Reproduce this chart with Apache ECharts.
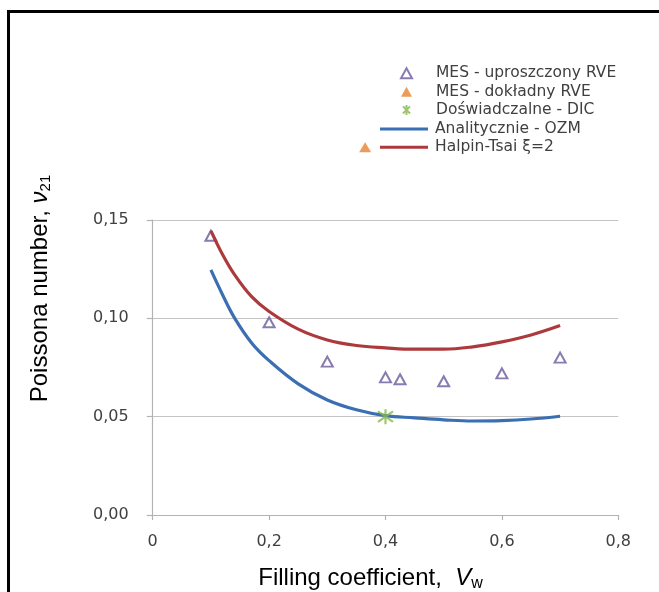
<!DOCTYPE html>
<html>
<head>
<meta charset="utf-8">
<script src="https://cdn.jsdelivr.net/npm/echarts@6/dist/echarts.min.js"></script>
<style>
html,body{margin:0;padding:0;background:#fff;}
#chart{width:659px;height:592px;}
</style>
</head>
<body>
<div id="chart"></div>
<script>
// ---- data ----
const xTickLabels = ['0', '0,2', '0,4', '0,6', '0,8'];
const yTickLabels = ['0,00', '0,05', '0,10', '0,15'];

const seriesNames = ['MES - uproszczony RVE', 'MES - dokładny RVE', 'Doświadczalne - DIC', 'Analitycznie - OZM', 'Halpin-Tsai ξ=2'];

const rveSimpleX = [0.10, 0.20, 0.30, 0.40, 0.425, 0.50, 0.60, 0.70];
const rveSimpleY = [0.142, 0.098, 0.078, 0.070, 0.069, 0.068, 0.072, 0.080];

const rveFullX = [0.365];
const rveFullY = [0.187];

const dicX = [0.40];
const dicY = [0.050];

const curveX = [0.10, 0.12, 0.14, 0.17, 0.20, 0.25, 0.30, 0.35, 0.40, 0.45, 0.50, 0.55, 0.60, 0.65, 0.70];
const ozmY = [0.1246, 0.1120, 0.1005, 0.0875, 0.0785, 0.0667, 0.0585, 0.0535, 0.0505, 0.0494, 0.0484, 0.0478, 0.0480, 0.0488, 0.0502];
const halpinY = [0.1445, 0.1325, 0.1225, 0.1110, 0.1035, 0.0945, 0.0890, 0.0862, 0.0850, 0.0843, 0.0843, 0.0855, 0.0880, 0.0915, 0.0963];

const zip = (xs, ys) => xs.map((x, i) => [x, ys[i]]);

const asteriskPath = 'path://M5,0 L5,10 M1.46,1.46 L8.54,8.54 M1.46,8.54 L8.54,1.46';

const chart = echarts.init(document.getElementById('chart'), null, {renderer: 'canvas'});
const axisGrey = '#b3b3b3';
const labelFont = '"DejaVu Sans", sans-serif';
const titleFont = '"Liberation Sans", Arial, sans-serif';
const legendText = {fontFamily: labelFont, fontSize: 15.5, color: '#404040', lineHeight: 18.3};

chart.setOption({
  animation: false,
  backgroundColor: '#ffffff',
  grid: {left: 152.7, right: 40.7, top: 220, bottom: 77},
  legend: [
    {
      orient: 'vertical',
      left: 395,
      top: 59.2,
      itemWidth: 11,
      itemHeight: 10,
      itemGap: 0,
      selectedMode: false,
      textStyle: Object.assign({padding: [0, 0, 0, 19]}, legendText),
      data: seriesNames.slice(0, 3)
    },
    {
      orient: 'vertical',
      left: 375,
      top: 114.9,
      itemWidth: 48,
      itemHeight: 3,
      itemGap: 0,
      selectedMode: false,
      textStyle: Object.assign({padding: [0, 0, 0, 2]}, legendText),
      data: seriesNames.slice(3).map(n => ({name: n, icon: 'rect'}))
    }
  ],
  xAxis: {
    type: 'value',
    min: 0, max: 0.8, interval: 0.2,
    axisLine: {lineStyle: {color: axisGrey, width: 1.2}},
    axisTick: {show: true, inside: false, length: 5, lineStyle: {color: axisGrey, width: 1.2}},
    splitLine: {show: false},
    axisLabel: {
      margin: 19,
      fontFamily: labelFont, fontSize: 16, color: '#404040',
      formatter: v => xTickLabels[Math.round(v / 0.2)]
    }
  },
  yAxis: {
    type: 'value',
    min: 0, max: 0.15, interval: 0.05,
    axisLine: {show: true, lineStyle: {color: axisGrey, width: 1.2}},
    axisTick: {show: true, inside: false, length: 6, lineStyle: {color: axisGrey, width: 1.2}},
    splitLine: {show: true, lineStyle: {color: '#c4c4c4', width: 1.2}},
    axisLabel: {
      margin: 24,
      fontFamily: labelFont, fontSize: 16, color: '#404040',
      formatter: v => yTickLabels[Math.round(v / 0.05)]
    }
  },
  graphic: [
    {
      type: 'polyline',
      shape: {points: [[8.5, 592], [8.5, 11.5], [659, 11.5]]},
      style: {stroke: '#000', lineWidth: 3, fill: null},
      silent: true
    },
    {
      type: 'text',
      x: 40, y: 288.5,
      rotation: Math.PI / 2,
      style: {
        text: '{a|Poissona number, }{v|ν}{s|21}',
        align: 'center',
        verticalAlign: 'middle',
        rich: {
          a: {fontFamily: titleFont, fontSize: 24, fill: '#000', lineHeight: 27},
          v: {fontFamily: titleFont, fontSize: 24, fontStyle: 'italic', fill: '#000', lineHeight: 27},
          s: {fontFamily: titleFont, fontSize: 15, fill: '#000', lineHeight: 14, verticalAlign: 'bottom'}
        }
      },
      silent: true
    },
    {
      type: 'text',
      x: 370.5, y: 578,
      style: {
        text: '{a|Filling coefficient,  }{v|V}{s|w}',
        align: 'center',
        verticalAlign: 'middle',
        rich: {
          a: {fontFamily: titleFont, fontSize: 24, fill: '#000', lineHeight: 28},
          v: {fontFamily: titleFont, fontSize: 24, fontStyle: 'italic', fill: '#000', lineHeight: 28},
          s: {fontFamily: titleFont, fontSize: 16, fill: '#000', lineHeight: 14, verticalAlign: 'bottom'}
        }
      },
      silent: true
    }
  ],
  series: [
    {
      name: seriesNames[0],
      type: 'scatter',
      data: zip(rveSimpleX, rveSimpleY),
      symbol: 'triangle',
      symbolSize: [11, 10],
      itemStyle: {color: '#ffffff', borderColor: '#6a5a9c', borderWidth: 2},
      z: 2
    },
    {
      name: seriesNames[1],
      type: 'scatter',
      data: zip(rveFullX, rveFullY),
      symbol: 'triangle',
      symbolSize: [12, 10],
      clip: false,
      itemStyle: {color: '#e8822e'},
      z: 2
    },
    {
      name: seriesNames[2],
      type: 'scatter',
      data: zip(dicX, dicY),
      symbol: asteriskPath,
      symbolSize: 15,
      itemStyle: {color: 'rgba(0,0,0,0)', borderColor: '#86b84a', borderWidth: 2.2},
      z: 4
    },
    {
      name: seriesNames[3],
      type: 'line',
      data: zip(curveX, ozmY),
      smooth: 0.4,
      symbol: 'none',
      lineStyle: {color: '#3b6fb3', width: 3.2},
      itemStyle: {color: '#3b6fb3'},
      z: 3
    },
    {
      name: seriesNames[4],
      type: 'line',
      data: zip(curveX, halpinY),
      smooth: 0.4,
      symbol: 'none',
      lineStyle: {color: '#ac3a3c', width: 3.2},
      itemStyle: {color: '#ac3a3c'},
      z: 3
    }
  ]
});
</script>
</body>
</html>
